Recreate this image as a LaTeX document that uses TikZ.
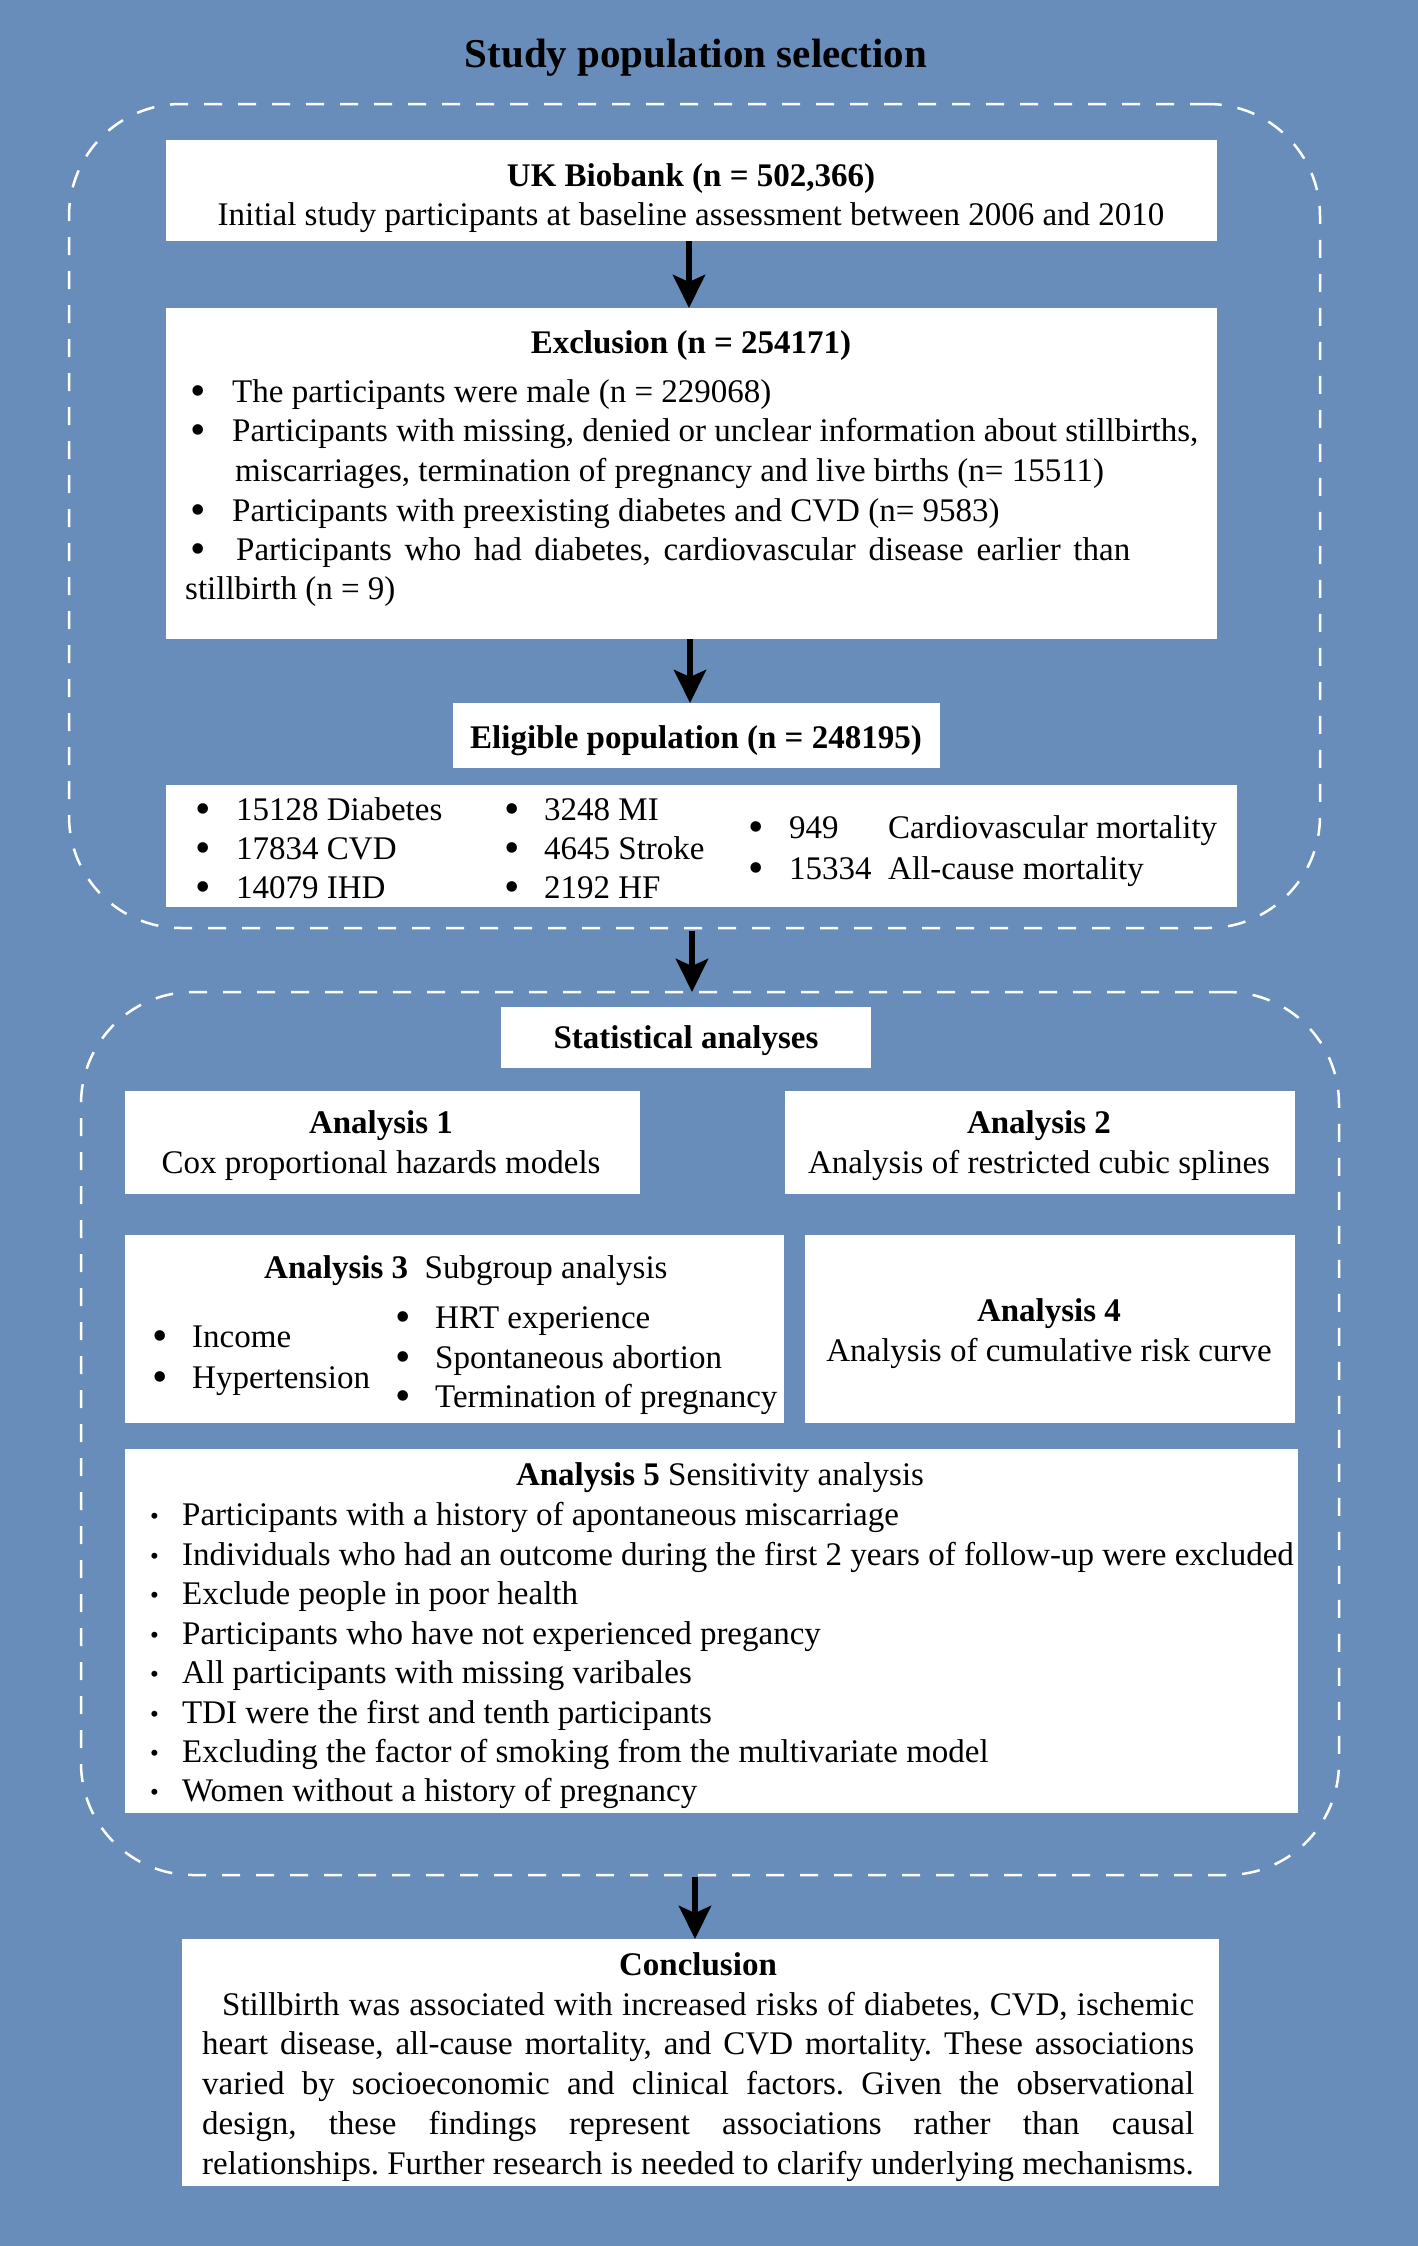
\documentclass[tikz,border=0pt]{standalone}
\usepackage{fontspec}
\setmainfont{Liberation Serif}
\usetikzlibrary{arrows.meta}
\definecolor{bg}{RGB}{104,141,187}
\frenchspacing
\newcommand\fsn{\fontsize{33}{40}\selectfont}
\newcommand\bigb{\smash{\raisebox{-3pt}{\fontsize{44}{44}\selectfont •}}}
\newcommand\bul{\makebox[42pt][l]{\bigb}}
\newcommand\bulb{\makebox[40pt][l]{\bigb}}
\newcommand\sbul{\makebox[32pt][l]{\smash{\raisebox{1pt}{\fontsize{25}{25}\selectfont •}}}}
\begin{document}
\begin{tikzpicture}[x=1pt,y=-1pt,
  wbox/.style={fill=white,draw=none,inner sep=0pt,outer sep=0pt,anchor=north west},
  dbox/.style={draw=white,line width=2.5pt,dash pattern=on 18pt off 16pt,rounded corners=112pt,inner sep=0pt,outer sep=0pt,anchor=north west},
  tl/.style={anchor=base west,inner sep=0pt,font=\fsn},
  tc/.style={anchor=base,inner sep=0pt,font=\fsn},
  arr/.style={line width=6pt,-{Stealth[length=33pt,width=32pt,inset=7pt]}}]
% background
\fill[bg] (0,0) rectangle (1418,2246);
\useasboundingbox (0,0) rectangle (1418,2246);

% title
\node[tc,font=\fontsize{41}{49}\selectfont\bfseries] (title) at (696,67) {Study population selection};

% dashed groups
\node[dbox,minimum width=1251pt,minimum height=824pt] (d1) at (69,104) {};
\node[dbox,minimum width=1258pt,minimum height=883pt] (d2) at (81,992) {};

% white boxes
\node[wbox,minimum width=1051pt,minimum height=101pt] (ukb) at (166,140) {};
\node[wbox,minimum width=1051pt,minimum height=331pt] (excl) at (166,308) {};
\node[wbox,minimum width=487pt,minimum height=65pt] (elig) at (453,703) {};
\node[wbox,minimum width=1071pt,minimum height=122pt] (outc) at (166,785) {};
\node[wbox,minimum width=370pt,minimum height=61pt] (stat) at (501,1007) {};
\node[wbox,minimum width=515pt,minimum height=103pt] (a1) at (125,1091) {};
\node[wbox,minimum width=510pt,minimum height=103pt] (a2) at (785,1091) {};
\node[wbox,minimum width=659pt,minimum height=188pt] (a3) at (125,1235) {};
\node[wbox,minimum width=490pt,minimum height=188pt] (a4) at (805,1235) {};
\node[wbox,minimum width=1173pt,minimum height=364pt] (a5) at (125,1449) {};
\node[wbox,minimum width=1037pt,minimum height=247pt] (concl) at (182,1939) {};

% arrows
\draw[arr] (689,241) coordinate (s1) -- (s1 |- excl.north);
\draw[arr] (690,639) coordinate (s2) -- (s2 |- elig.north);
\draw[arr] (692,931) coordinate (s3) -- (s3 |- d2.north);
\draw[arr] (695,1877) coordinate (s4) -- (s4 |- concl.north);

% UK Biobank
\node[tc,font=\fsn\bfseries] (ukbh) at (691,186) {UK Biobank (n = 502,366)};
\node[tc] (ukbt) at (691,225) {Initial study participants at baseline assessment between 2006 and 2010};

% Exclusion
\node[tc,font=\fsn\bfseries] (exh) at (691,353) {Exclusion (n = 254171)};
\node[tl] (ex1) at (190,402) {\bul The participants were male (n = 229068)};
\node[tl] (ex2) at (190,441) {\bul Participants with missing, denied or unclear information about stillbirths,};
\node[tl] (ex2b) at (235,481) {miscarriages, termination of pregnancy and live births (n= 15511)};
\node[tl] (ex3) at (190,521) {\bul Participants with preexisting diabetes and CVD (n= 9583)};
\node[tl] (ex4) at (190,560) {\makebox[46pt][l]{\bigb}\makebox[894pt][s]{Participants who had diabetes, cardiovascular disease earlier than}};
\node[tl] (ex4b) at (185,599) {stillbirth (n = 9)};

% Eligible
\node[tc,font=\fsn\bfseries] (elh) at (696,748) {Eligible population (n = 248195)};
\node[tl] (o1) at (195,820) {\makebox[41pt][l]{\bigb}15128 Diabetes};
\node[tl] (o2) at (195,859) {\makebox[41pt][l]{\bigb}17834 CVD};
\node[tl] (o3) at (195,898) {\makebox[41pt][l]{\bigb}14079 IHD};
\node[tl] (o4) at (504,820) {\makebox[40pt][l]{\bigb}3248 MI};
\node[tl] (o5) at (504,859) {\makebox[40pt][l]{\bigb}4645 Stroke};
\node[tl] (o6) at (504,898) {\makebox[40pt][l]{\bigb}2192 HF};
\node[tl] (o7) at (748,838) {\makebox[41pt][l]{\bigb}\makebox[99pt][l]{949}Cardiovascular mortality};
\node[tl] (o8) at (748,879) {\makebox[41pt][l]{\bigb}\makebox[99pt][l]{15334}All-cause mortality};

% Statistical analyses
\node[tc,font=\fsn\bfseries] (sth) at (686,1048) {Statistical analyses};
\node[tc,font=\fsn\bfseries] (a1h) at (381,1133) {Analysis 1};
\node[tc] (a1t) at (381,1173) {Cox proportional hazards models};
\node[tc,font=\fsn\bfseries] (a2h) at (1039,1133) {Analysis 2};
\node[tc] (a2t) at (1039,1173) {Analysis of restricted cubic splines};
\node[tl] (a3h) at (264,1278) {\textbf{Analysis 3}\ \ Subgroup analysis};
\node[tl] (a3a) at (152,1347) {\bulb Income};
\node[tl] (a3b) at (152,1388) {\bulb Hypertension};
\node[tl] (a3c) at (395,1328) {\bulb HRT experience};
\node[tl] (a3d) at (395,1368) {\bulb Spontaneous abortion};
\node[tl] (a3e) at (395,1407) {\bulb Termination of pregnancy};
\node[tc,font=\fsn\bfseries] (a4h) at (1049,1321) {Analysis 4};
\node[tc] (a4t) at (1049,1361) {Analysis of cumulative risk curve};

% Analysis 5
\node[tc] (a5h) at (720,1485) {\textbf{Analysis 5} Sensitivity analysis};
\node[tl] (a51) at (150,1525) {\sbul Participants with a history of apontaneous miscarriage};
\node[tl] (a52) at (150,1565) {\sbul Individuals who had an outcome during the first 2 years of follow-up were excluded};
\node[tl] (a53) at (150,1604) {\sbul Exclude people in poor health};
\node[tl] (a54) at (150,1644) {\sbul Participants who have not experienced pregancy};
\node[tl] (a55) at (150,1683) {\sbul All participants with missing varibales};
\node[tl] (a56) at (150,1723) {\sbul TDI were the first and tenth participants};
\node[tl] (a57) at (150,1762) {\sbul Excluding the factor of smoking from the multivariate model};
\node[tl] (a58) at (150,1801) {\sbul Women without a history of pregnancy};

% Conclusion
\node[tc,font=\fsn\bfseries] (ch) at (698,1975) {Conclusion};
\node[tl] (c1) at (222,2015) {\makebox[972pt][s]{Stillbirth was associated with increased risks of diabetes, CVD, ischemic}};
\node[tl] (c2) at (202,2054) {\makebox[992pt][s]{heart disease, all-cause mortality, and CVD mortality. These associations}};
\node[tl] (c3) at (202,2094) {\makebox[992pt][s]{varied by socioeconomic and clinical factors. Given the observational}};
\node[tl] (c4) at (202,2134) {\makebox[992pt][s]{design, these findings represent associations rather than causal}};
\node[tl] (c5) at (202,2174) {relationships. Further research is needed to clarify underlying mechanisms.};
\end{tikzpicture}
\end{document}
